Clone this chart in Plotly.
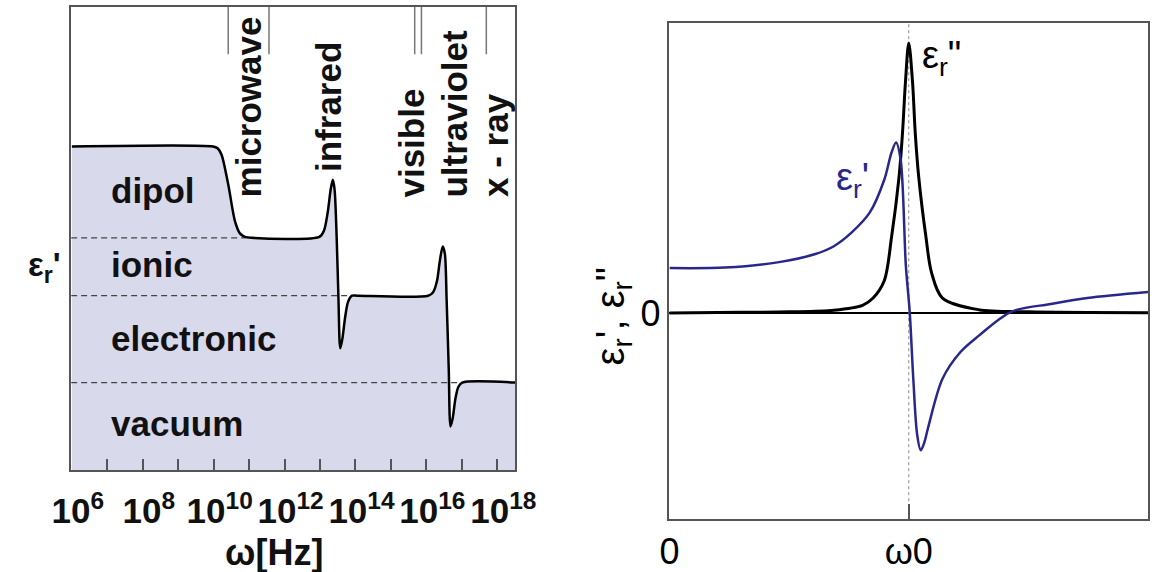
import plotly.graph_objects as go

FONT = "Liberation Sans, Arial, Helvetica, sans-serif"
NAVY = "#28288c"
FILL = "#d9d9ec"
FRAME = "#555555"

# ---------------- left panel: eps_r' over a log frequency axis ----------------
level_names = ["dipol", "ionic", "electronic", "vacuum"]
level_values = [3.69, 2.65, 1.99, 1.0]
# x position (log10 Hz) where each dashed level line stops
level_ends = [10.9, 13.9, 17.0]

log_freq = [6.0, 9.98, 10.11, 10.22, 10.41, 10.60, 10.74, 10.88, 11.07,
            12.98, 13.11, 13.22, 13.30, 13.36, 13.41, 13.47, 13.52, 13.57,
            13.63, 13.71, 13.79, 13.90, 14.07,
            16.05, 16.19, 16.30, 16.38, 16.46, 16.52, 16.57, 16.63, 16.68,
            16.74, 16.82, 16.90, 17.01, 18.5]
eps_real = [3.69, 3.69, 3.67, 3.60, 3.26, 2.84, 2.70, 2.66, 2.65,
            2.66, 2.73, 2.95, 3.20, 3.31, 3.20, 2.64, 1.95, 1.39,
            1.50, 1.75, 1.92, 1.99, 1.99,
            1.99, 2.03, 2.16, 2.39, 2.55, 2.47, 1.95, 1.16, 0.50,
            0.59, 0.82, 0.95, 1.0, 1.0]

band_names = ["microwave", "infrared", "visible", "ultraviolet", "x - ray"]
band_label_x = [10.99, 13.22, 15.59, 16.79, 17.93]
band_label_y = [3.09, 3.375, 3.09, 3.09, 3.09]
band_edges = [10.41, 11.56, 15.67, 15.86, 17.69]
band_marker_y = [4.74, 5.28]

decades = list(range(6, 19))
decade_labels = [f"<b>10<sup>{d}</sup></b>" if d % 2 == 0 else "" for d in decades]

left_xrange = [5.98, 18.5]
left_yrange = [0, 5.28]

# ---------------- right panel: Lorentz oscillator response ----------------
omega0 = 1.0
omega_re = [0.0, 0.233, 0.458, 0.610, 0.687, 0.763, 0.838, 0.898, 0.928,
            0.947, 0.966, 0.988, 1.004, 1.019, 1.035, 1.050, 1.065, 1.080,
            1.141, 1.217, 1.292, 1.428, 1.594, 1.746, 2.0]
eps1 = [0.166, 0.168, 0.188, 0.218, 0.247, 0.299, 0.373, 0.494, 0.594,
        0.631, 0.568, 0.173, 0.004, -0.244, -0.45, -0.509, -0.48, -0.428,
        -0.244, -0.144, -0.085, 0.004, 0.033, 0.055, 0.077]

omega_im = [0.0, 0.3, 0.5, 0.687, 0.807, 0.851, 0.898, 0.928, 0.959, 0.974,
            0.986, 1.0, 1.016, 1.027, 1.042, 1.072, 1.095, 1.141, 1.292,
            1.5, 2.0]
eps2 = [0.0, 0.002, 0.004, 0.010, 0.028, 0.055, 0.12, 0.28, 0.5, 0.668,
        0.852, 1.0, 0.852, 0.668, 0.5, 0.28, 0.15, 0.055, 0.012, 0.004, 0.001]

right_xrange = [0, 2.0]
right_yrange = [-0.764, 1.074]

freq = [10 ** e for e in log_freq]

fig = go.Figure()

# shaded area under eps_r'
fig.add_trace(go.Scatter(x=freq, y=eps_real, mode="lines", fill="tozeroy",
                         fillcolor=FILL, line=dict(width=0, shape="spline", smoothing=0.8),
                         hoverinfo="skip", showlegend=False, xaxis="x", yaxis="y"))

# dashed contribution levels
for lv, xe in zip(level_values[1:], level_ends):
    fig.add_trace(go.Scatter(x=[10 ** left_xrange[0], 10 ** xe], y=[lv, lv], mode="lines",
                             line=dict(color="#444444", width=1.3, dash="6px,4px"),
                             hoverinfo="skip", showlegend=False, xaxis="x", yaxis="y"))

# eps_r' curve
fig.add_trace(go.Scatter(x=freq, y=eps_real, mode="lines",
                         line=dict(color="black", width=2.5, shape="spline", smoothing=0.8),
                         showlegend=False, xaxis="x", yaxis="y"))

# spectral band separators at the top
bx, by = [], []
for e in band_edges:
    bx += [10 ** e, 10 ** e, None]
    by += [band_marker_y[0], band_marker_y[1], None]
fig.add_trace(go.Scatter(x=bx, y=by, mode="lines", line=dict(color="#777777", width=1.5),
                         hoverinfo="skip", showlegend=False, xaxis="x", yaxis="y"))

# right panel: resonance line at omega0
fig.add_trace(go.Scatter(x=[omega0, omega0], y=right_yrange, mode="lines",
                         line=dict(color="#888888", width=1, dash="dot"),
                         hoverinfo="skip", showlegend=False, xaxis="x2", yaxis="y2"))
fig.add_trace(go.Scatter(x=omega_im, y=eps2, mode="lines",
                         line=dict(color="black", width=3, shape="spline", smoothing=0.9),
                         showlegend=False, xaxis="x2", yaxis="y2"))
fig.add_trace(go.Scatter(x=omega_re, y=eps1, mode="lines",
                         line=dict(color=NAVY, width=2.5, shape="spline", smoothing=0.9),
                         showlegend=False, xaxis="x2", yaxis="y2"))

annotations = []
# region labels
label_y = [3.19, 2.34, 1.5, 0.53]
for name, yv in zip(level_names, label_y):
    annotations.append(dict(x=7.035, y=yv, xref="x", yref="y", text=f"<b>{name}</b>",
                            showarrow=False, xanchor="left", yanchor="middle",
                            font=dict(family=FONT, size=35, color="#111111")))
# band labels
for name, xv, yv in zip(band_names, band_label_x, band_label_y):
    annotations.append(dict(x=xv, y=yv, xref="x", yref="y", text=f"<b>{name}</b>",
                            showarrow=False, textangle=-90, xanchor="center", yanchor="bottom",
                            font=dict(family=FONT, size=35, color="#111111")))
# left axis labels
annotations.append(dict(x=263 / 1171, y=1 - 554 / 572, xref="paper", yref="paper",
                        text="<b>ω[Hz]</b>", showarrow=False,
                        xanchor="center", yanchor="middle",
                        font=dict(family=FONT, size=36, color="#111111")))
annotations.append(dict(x=25 / 1171, y=1 - 268 / 572, xref="paper", yref="paper",
                        text="<b>ε<sub>r</sub>'</b>", showarrow=False,
                        xanchor="center", yanchor="middle",
                        font=dict(family=FONT, size=33, color="#111111")))
# right panel labels
annotations.append(dict(x=0.767, y=0.494, xref="x2", yref="y2", text="ε<sub>r</sub>'",
                        showarrow=False, font=dict(family=FONT, size=38, color=NAVY)))
annotations.append(dict(x=1.137, y=0.945, xref="x2", yref="y2", text='ε<sub>r</sub>"',
                        showarrow=False, font=dict(family=FONT, size=38, color="black")))
annotations.append(dict(x=614 / 1171, y=1 - 318 / 572, xref="paper", yref="paper",
                        text='ε<sub>r</sub>\', ε<sub>r</sub>"', textangle=-90, showarrow=False,
                        xanchor="center", yanchor="middle",
                        font=dict(family=FONT, size=40, color="black")))

fig.update_layout(
    width=1171, height=572, autosize=False,
    margin=dict(l=0, r=0, t=0, b=0),
    paper_bgcolor="white", plot_bgcolor="white",
    annotations=annotations,
    xaxis=dict(type="log", domain=[53 / 1171, 513 / 1171], range=left_xrange,
               tickvals=[10 ** d for d in decades], ticktext=decade_labels,
               ticks="inside", ticklen=11, tickwidth=1.5, tickcolor=FRAME,
               tickfont=dict(family=FONT, size=35, color="#111111"),
               ticklabelshift=6, ticklabelstandoff=9,
               showgrid=False, zeroline=False,
               showline=True, linecolor=FRAME, linewidth=2, mirror=True,
               anchor="y"),
    yaxis=dict(domain=[1 - 472 / 572, 1 - 7 / 572], range=left_yrange,
               showticklabels=False, ticks="", showgrid=False, zeroline=False,
               showline=True, linecolor=FRAME, linewidth=2, mirror=True,
               anchor="x"),
    xaxis2=dict(domain=[673 / 1171, 1169 / 1171], range=right_xrange,
                tickvals=[0, omega0], ticktext=["0", "ω0"],
                ticks="inside", ticklen=15, tickwidth=1.5, tickcolor=FRAME,
                tickfont=dict(family=FONT, size=36, color="black"),
                showgrid=False, zeroline=False,
                showline=True, linecolor=FRAME, linewidth=1.5, mirror=True,
                anchor="y2"),
    yaxis2=dict(domain=[1 - 521 / 572, 1 - 23 / 572], range=right_yrange,
                tickvals=[0], ticktext=["0"], ticks="",
                tickfont=dict(family=FONT, size=36, color="black"),
                showgrid=False, zeroline=True, zerolinecolor="black", zerolinewidth=1.5,
                showline=True, linecolor=FRAME, linewidth=1.5, mirror=True,
                anchor="x2"),
)

fig.write_html("out.html")
